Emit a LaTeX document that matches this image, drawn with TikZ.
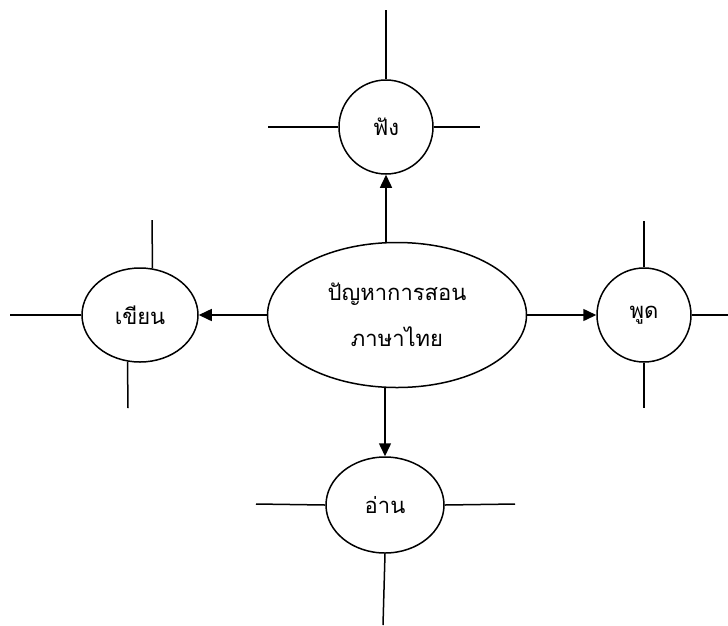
\documentclass[tikz,border=0pt]{standalone}
\usepackage{fontspec}
\newfontfamily\thaifont[Script=Thai]{Loma}
\usepackage{tikz}
\usetikzlibrary{arrows.meta,shapes.geometric}

\begin{document}
\begin{tikzpicture}[x=1pt,y=-1pt,line width=1.5pt,
  kreis/.style={draw,circle,minimum size=94pt,inner sep=0pt,font=\thaifont\fontsize{22}{26}\selectfont},
  oval/.style={draw,ellipse,inner sep=0pt,font=\thaifont\fontsize{22}{46}\selectfont,align=center},
  pfeil/.style={-{Triangle[length=13pt,width=12pt]}}]
\useasboundingbox (0,0) rectangle (728,625);
\node[oval,minimum width=259pt,minimum height=145pt] (1) at (397,315) {ปัญหาการสอน\\ภาษาไทย};
\node[kreis] (2) at (386,127) {ฟัง};
\node[oval,minimum width=116pt,minimum height=94pt] (3) at (140,315) {เขียน};
\node[kreis] (4) at (644,315) {พูด};
\node[oval,minimum width=118pt,minimum height=96pt] (5) at (385,505) {อ่าน};
% arrows from the middle
\draw[pfeil] (1.north -| 2) -- (2.south);
\draw[pfeil] (1.west) -- (3.east);
\draw[pfeil] (1.east) -- (4.west);
\draw[pfeil] (1.south -| 5) -- (5.north);
% free lines
\coordinate (2o) at (386,10);
\coordinate (2l) at (268,127);
\coordinate (2r) at (480,127);
\draw (2.north) -- (2o);
\draw (2.west) -- (2l);
\draw (2.east) -- (2r);
\coordinate (3o) at (152,220);
\coordinate (3u) at (128,408);
\coordinate (3l) at (10,315);
\draw (3.75) -- (3o);
\draw (3.255) -- (3u);
\draw (3.west) -- (3l);
\coordinate (4o) at (644,221);
\coordinate (4u) at (644,408);
\coordinate (4r) at (728,315);
\draw (4.north) -- (4o);
\draw (4.south) -- (4u);
\draw (4.east) -- (4r);
\coordinate (5l) at (256,504);
\coordinate (5r) at (515,504);
\coordinate (5u) at (383,625);
\draw (5.west) -- (5l);
\draw (5.east) -- (5r);
\draw (5.south) -- (5u);
\end{tikzpicture}
\end{document}
